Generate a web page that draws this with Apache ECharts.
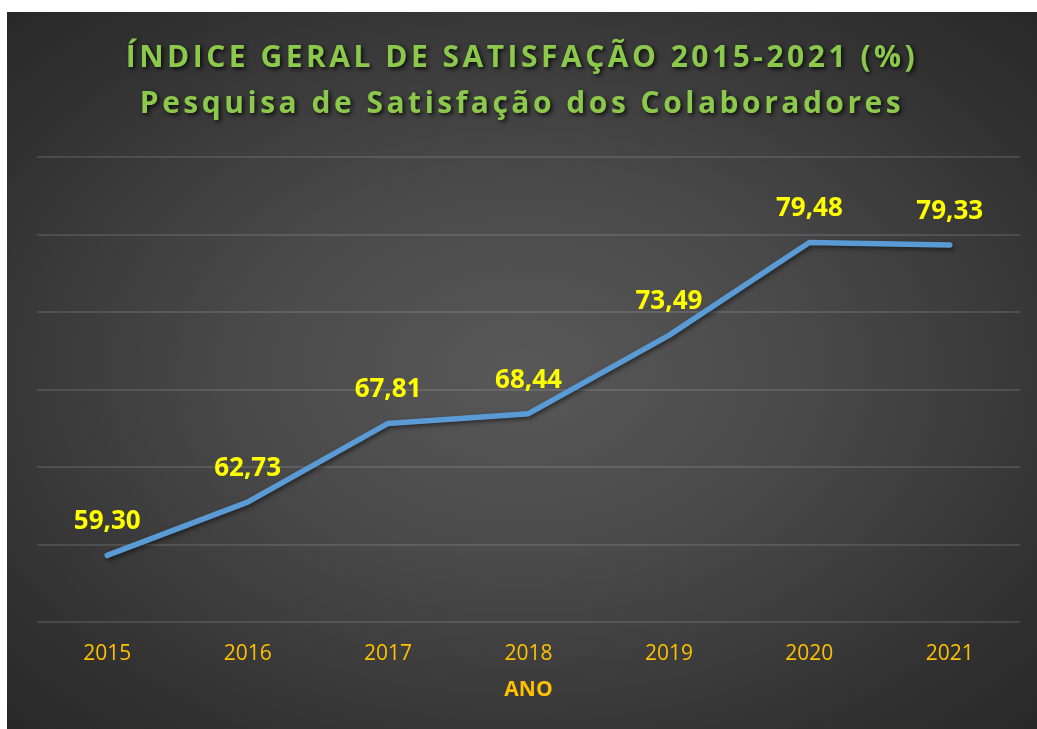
<!DOCTYPE html>
<html><head><meta charset="utf-8">
<script src="https://cdn.jsdelivr.net/npm/echarts@6/dist/echarts.min.js"></script>
<style>
html,body{margin:0;padding:0;background:#fff;width:1037px;height:729px;overflow:hidden;}
#bg{position:absolute;left:7px;top:12px;width:1030px;height:717px;
 background:radial-gradient(ellipse 75% 75% at 50% 50%, #585858 0%, #4a4a4a 35%, #2f2f2f 80%, #262626 100%);}
#chart{position:absolute;left:0;top:0;width:1030px;height:717px;}
</style></head>
<body>
<div id="bg"><div id="chart"></div></div>
<script>
const years = ['2015','2016','2017','2018','2019','2020','2021'];
const indice = [59.30, 62.73, 67.81, 68.44, 73.49, 79.48, 79.33];
const titleLine1 = 'ÍNDICE GERAL DE SATISFAÇÃO 2015-2021 (%)';
const titleLine2 = 'Pesquisa de Satisfação dos Colaboradores';
const axisName = 'ANO';

// Title letter spacing (the reference title is letter-spaced)
(function(){
  const proto = CanvasRenderingContext2D.prototype;
  const desc = Object.getOwnPropertyDescriptor(proto, 'font');
  if (!desc || !('letterSpacing' in proto)) return;
  Object.defineProperty(proto, 'font', {
    configurable:true, enumerable:desc.enumerable,
    get(){ return desc.get.call(this); },
    set(v){
      desc.set.call(this, v);
      this.letterSpacing = (typeof v === 'string' && v.indexOf('Lato Spaced') >= 0) ? '3.5px' : '0px';
    }
  });
})();

const chart = echarts.init(document.getElementById('chart'), null, {renderer:'canvas'});
const titleStyle = {
  fontFamily:'"Open Sans", "Lato Spaced"', fontWeight:'bold', color:'#8cc84b', fontSize:30,
  textShadowColor:'rgba(0,0,0,0.8)', textShadowBlur:4, textShadowOffsetX:2, textShadowOffsetY:2
};
chart.setOption({
  backgroundColor:'transparent',
  title:[
    {text:titleLine1, left:'center', top:25, textStyle:titleStyle},
    {text:titleLine2, left:'center', top:71, textStyle:titleStyle}
  ],
  grid:{left:30, right:17, top:145, bottom:107},
  xAxis:{
    type:'category', data:years, boundaryGap:true,
    axisLine:{show:false}, axisTick:{show:false},
    axisLabel:{color:'#ffc000', fontSize:21, fontFamily:'Open Sans', margin:22},
    name:axisName, nameLocation:'middle', nameGap:58,
    nameTextStyle:{color:'#ffc000', fontSize:21, fontWeight:'bold', fontFamily:'Open Sans'}
  },
  yAxis:{
    type:'value', min:55, max:85, interval:5,
    axisLabel:{show:false}, axisLine:{show:false}, axisTick:{show:false},
    splitLine:{lineStyle:{color:'rgba(255,255,255,0.16)', width:1.5}}
  },
  series:[{
    type:'line', data:indice, symbol:'circle', symbolSize:1, showSymbol:true, smooth:false,
    itemStyle:{color:'rgba(0,0,0,0)'},
    lineStyle:{color:'#5b9bd5', width:5.5, cap:'round', join:'round',
      shadowColor:'rgba(0,0,0,0.5)', shadowBlur:4, shadowOffsetX:2, shadowOffsetY:2},
    label:{show:true, position:'top', distance:20, color:'#ffff00', fontSize:26, fontWeight:'bold',
      fontFamily:'Open Sans',
      formatter:p=>p.value.toFixed(2).replace('.',',')},
    emphasis:{disabled:true},
    labelLayout:{hideOverlap:false}
  }]
});
</script>
</body></html>
